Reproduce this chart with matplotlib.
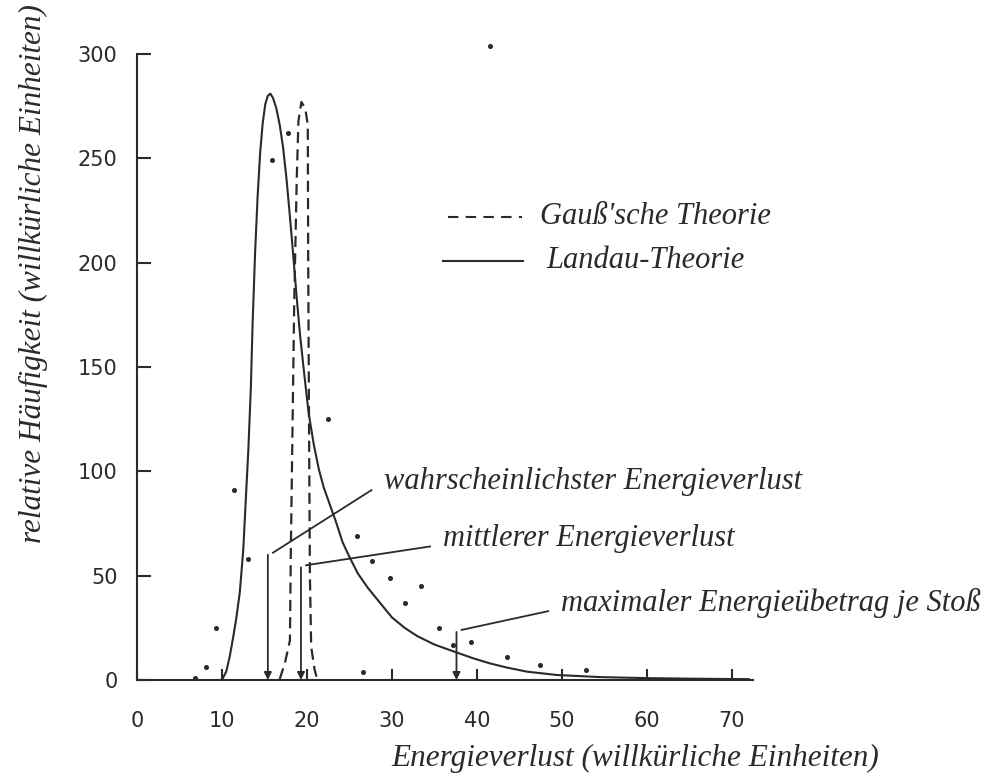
import matplotlib
matplotlib.use("Agg")
import matplotlib.pyplot as plt

plt.rcParams.update({
    "font.family": "DejaVu Sans",
    "axes.linewidth": 1.5,
    "xtick.direction": "in",
    "ytick.direction": "in",
})

INK = "#2a2a2a"
SERIF = "Liberation Serif"

# Landau curve (solid)
landau_x = [10.0, 10.5, 10.9, 11.3, 11.7, 12.1, 12.5, 12.8, 13.1, 13.4, 13.6, 13.9,
            14.2, 14.5, 14.8, 15.1, 15.4, 15.7, 16.0, 16.4, 16.8, 17.2, 17.6, 18.0,
            18.4, 18.8, 19.2, 19.7, 20.2, 20.8, 21.4, 22.0, 22.7, 23.4, 24.2, 25.0,
            26.0, 27.2, 28.4, 30.0, 31.5, 33.0, 35.0, 37.4, 39.5, 41.5, 43.5, 45.9,
            49.4, 54.5, 60.0, 66.0, 72.0]
landau_y = [0, 4, 11, 20, 30, 42, 62, 86, 110, 140, 170, 205,
            232, 253, 267, 276, 280, 281, 279, 274, 266, 255, 240, 222,
            203, 183, 165, 146, 128, 113, 101, 92, 84, 76, 66, 59,
            51, 44, 38, 30, 25, 21, 17, 13.5, 10.5, 8, 6, 4,
            2.4, 1.4, 0.9, 0.6, 0.4]

# Gauss curve (dashed)
gauss_x = [16.8, 17.4, 18.0, 18.1, 18.3, 18.5, 18.8, 19.0, 19.35, 19.8, 20.1,
           20.15, 20.25, 20.35, 20.5, 20.9, 21.2]
gauss_y = [0.5, 8, 19, 60, 120, 180, 240, 268, 277, 274, 266,
           200, 120, 50, 16, 5, 0.5]

# measured points
meas_x = [6.8, 8.1, 9.3, 11.4, 13.1, 15.9, 17.8, 22.5, 25.9, 26.6, 27.7, 29.8,
          31.6, 33.4, 35.5, 37.2, 39.3, 43.6, 47.4, 52.9, 41.5]
meas_y = [1, 6, 25, 91, 58, 249, 262, 125, 69, 4, 57, 49,
          37, 45, 25, 17, 18, 11, 7, 5, 304]

# marked energies: (x, top of the arrow line, label, label position)
marks_x = [15.4, 19.3, 37.6]
marks_top = [60, 54, 23]
marks_label = ["wahrscheinlichster Energieverlust", "mittlerer Energieverlust",
               "maximaler Energieübetrag je Stoß"]
label_x = [29.1, 36.0, 49.9]
label_y = [95, 68, 37]

x_ticks = [0, 10, 20, 30, 40, 50, 60, 70]
y_ticks = [0, 50, 100, 150, 200, 250, 300]

fig = plt.figure(figsize=(10.04, 7.76), dpi=100)
ax = fig.add_axes([137 / 1004, 1 - 680 / 776, 616 / 1004, 626 / 776])

ax.plot(landau_x, landau_y, color=INK, lw=1.5)
ax.plot(gauss_x, gauss_y, color=INK, lw=1.6, dashes=(5, 2.8))
ax.plot(meas_x, meas_y, "o", color=INK, ms=2.6, clip_on=False)

for x, top, lab, lx, ly in zip(marks_x, marks_top, marks_label, label_x, label_y):
    ax.annotate("", xy=(x, 0), xytext=(x, top),
                arrowprops=dict(arrowstyle="-|>", color=INK, lw=1.3,
                                mutation_scale=11, shrinkA=0, shrinkB=0))
    ax.plot([x + 0.6, lx - 1.5], [top + 1, ly - 4], color=INK, lw=1.3)
    ax.text(lx, ly, lab, family=SERIF, style="italic", fontsize=22,
            color=INK, va="center", ha="left")

# legend drawn by hand as in the original
ax.plot([36.6, 45.3], [222, 222], color=INK, lw=1.5, dashes=(5, 3.5))
ax.text(47.4, 222, "Gauß'sche Theorie", family=SERIF, style="italic",
        fontsize=22, color=INK, va="center")
ax.plot([36.0, 45.4], [201, 201], color=INK, lw=1.5)
ax.text(48.2, 201, "Landau-Theorie", family=SERIF, style="italic",
        fontsize=22, color=INK, va="center")

ax.set_xlim(0, 72.5)
ax.set_ylim(0, 300)
ax.spines["top"].set_visible(False)
ax.spines["right"].set_visible(False)
for s in ("left", "bottom"):
    ax.spines[s].set_color(INK)

ax.set_xticks(x_ticks)
ax.set_yticks(y_ticks)
ax.tick_params(axis="y", length=10, width=1.5, pad=14, labelsize=15, colors=INK)
ax.tick_params(axis="x", length=8, width=1.5, pad=22, labelsize=15, colors=INK)

fig.text(33 / 1004, 1 - 274 / 776, "relative Häufigkeit (willkürliche Einheiten)",
         rotation=90, family=SERIF, style="italic", fontsize=22.5, color=INK,
         ha="center", va="center")
fig.text(635 / 1004, 1 - 758 / 776, "Energieverlust (willkürliche Einheiten)",
         family=SERIF, style="italic", fontsize=22.5, color=INK,
         ha="center", va="center")

fig.savefig("out.png", dpi=100, facecolor="white")
